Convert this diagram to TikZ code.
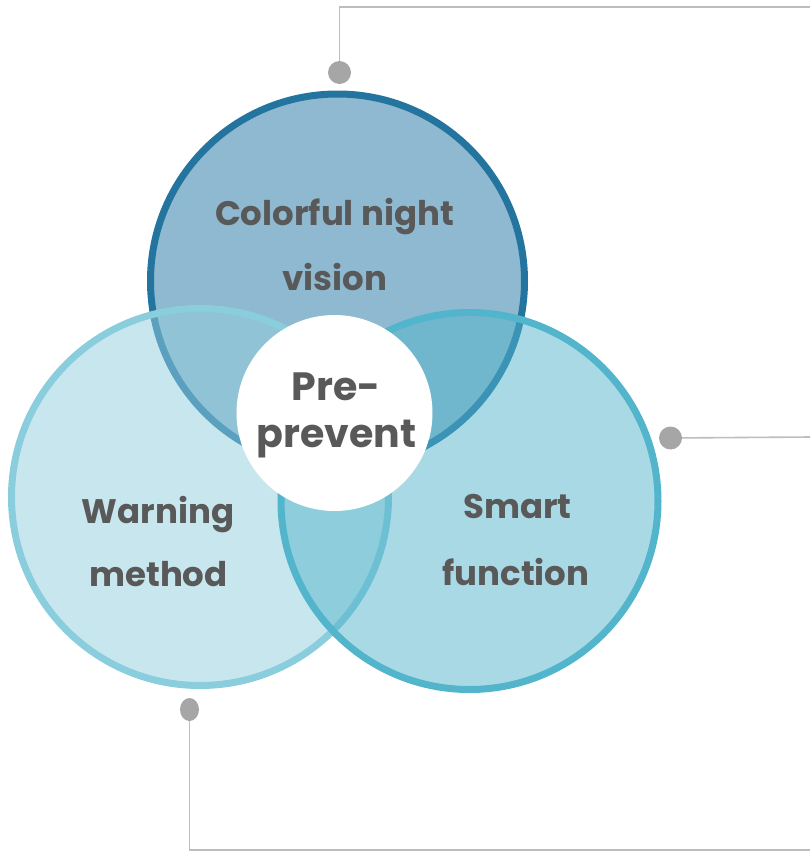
\documentclass[tikz,border=0pt]{standalone}
\usepackage{fontspec}
\setmainfont{Poppins}
\usetikzlibrary{shapes.geometric}
\definecolor{topfill}{HTML}{8FB9D0}
\definecolor{topline}{HTML}{2474A0}
\definecolor{leftfill}{HTML}{92CDDD}
\definecolor{leftline}{HTML}{8ACEDE}
\definecolor{rightfill}{HTML}{52B4CB}
\definecolor{rightline}{HTML}{52B5CB}
\definecolor{txt}{HTML}{595959}
\definecolor{conn}{HTML}{BDBDBD}
\definecolor{dotc}{HTML}{A6A6A6}
\tikzset{
  ring/.style={circle, inner sep=0pt, outer sep=0pt},
  lbl/.style={anchor=base, text=txt, inner sep=0pt, font=\bfseries\fontsize{34}{34}\selectfont},
  biglbl/.style={anchor=base, text=txt, inner sep=0pt, font=\bfseries\fontsize{39.5}{39.5}\selectfont},
  connline/.style={draw=conn, line width=1.6pt},
  dotnode/.style={circle, fill=dotc, inner sep=0pt, minimum size=23pt},
}
\begin{document}
\begin{tikzpicture}[x=1pt, y=-1pt]
\useasboundingbox (0,0) rectangle (810,852);
% circles
\node[ring, fill=topfill, draw=topline, line width=7pt, minimum size=374pt] (top) at (337.5,281) {};
\node[ring, fill=leftfill, fill opacity=0.5, draw=leftline, draw opacity=1, line width=7pt, minimum size=377pt] (left) at (200,497) {};
\node[ring, fill=rightfill, fill opacity=0.5, draw=rightline, draw opacity=1, line width=7pt, minimum size=377pt] (right) at (469.5,501) {};
\node[ring, fill=white, minimum size=196pt] (core) at (334.5,413) {};
% connectors
\coordinate (p1) at (339.5,72.5);
\coordinate (p2) at (670.5,438);
\coordinate (p3) at (189.5,709.5);
\coordinate (e1) at (810,7);
\coordinate (e2) at (810,437);
\coordinate (e3) at (810,850);
\draw[connline] (p1) |- (e1);
\draw[connline] (p2) -- (e2);
\draw[connline] (p3) |- (e3);
\node[dotnode] (d1) at (p1) {};
\node[dotnode] (d2) at (p2) {};
\node[dotnode, ellipse, minimum width=19pt, minimum height=23pt] (d3) at (p3) {};
% labels
\node[lbl] (t1a) at (334.5,225) {Colorful night};
\node[lbl] (t1b) at (334.5,290) {vision};
\node[biglbl] (c1) at (336,400) {Pre-};
\node[biglbl] (c2) at (336.5,447) {prevent};
\node[lbl] (t2a) at (158,523) {Warning};
\node[lbl] (t2b) at (158.5,586) {method};
\node[lbl] (t3a) at (517.5,518) {Smart};
\node[lbl] (t3b) at (516,585) {function};
\end{tikzpicture}
\end{document}
